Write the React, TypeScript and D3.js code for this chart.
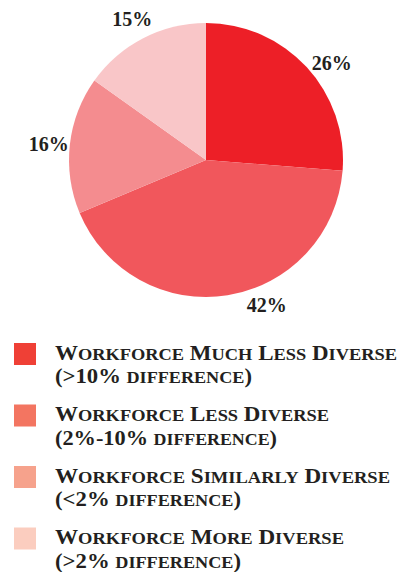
import React from "react";
import * as d3 from "d3";

const categories = [
  "Workforce Much Less Diverse",
  "Workforce Less Diverse",
  "Workforce Similarly Diverse",
  "Workforce More Diverse",
];
const subLabels = [
  "(>10% difference)",
  "(2%-10% difference)",
  "(<2% difference)",
  "(>2% difference)",
];
const values = [26, 42, 16, 15];
const sliceColors = ["#ed1f27", "#f1575c", "#f48c8f", "#f9c6c8"];
const legendColors = ["#ef4036", "#f37561", "#f6a28c", "#fbcdbf"];

// layout
const W = 401;
const H = 572;
const CX = 206;
const CY = 160;
const R = 137;
const LABEL_R = 158;
const labelAngleNudgeDeg = [5.5, -13.5, -1, -0.6];
const FONT = "'Liberation Serif', 'DejaVu Serif', serif";
const TEXT_COLOR = "#231f20";
const LEG_FONT = 20.5;
const SC_RATIO = 0.8;
const line1Widths = [342, 274, 335, 289];
const line2Widths = [197, 222, 186, 186];

function smallCaps(str: string, size: number) {
  const runs: { t: string; small: boolean }[] = [];
  for (const ch of str) {
    const small = ch >= "a" && ch <= "z";
    const last = runs[runs.length - 1];
    if (last && last.small === small) last.t += ch;
    else runs.push({ t: ch, small });
  }
  return runs.map((r, i) => (
    <tspan key={i} fontSize={r.small ? size * SC_RATIO : size}>
      {r.small ? r.t.toUpperCase() : r.t}
    </tspan>
  ));
}

export default function App() {
  const pie = d3
    .pie<number>()
    .sort(null)
    .value((d) => d);
  const arcs = pie(values);
  const arc = d3.arc<d3.PieArcDatum<number>>().innerRadius(0).outerRadius(R);

  const legendY = d3
    .scaleLinear()
    .domain([0, 1])
    .range([343, 343 + 61.5]);

  return (
    <svg
      width={W}
      height={H}
      style={{ position: "absolute", left: 0, top: 0, background: "#fff" }}
    >
      <g transform={`translate(${CX},${CY})`}>
        {arcs.map((a, i) => (
          <path key={i} d={arc(a) || ""} fill={sliceColors[i]} />
        ))}
        {arcs.map((a, i) => {
          const mid =
            (a.startAngle + a.endAngle) / 2 +
            (labelAngleNudgeDeg[i] * Math.PI) / 180;
          const x = Math.sin(mid) * LABEL_R;
          const y = -Math.cos(mid) * LABEL_R;
          return (
            <text
              key={"l" + i}
              x={x}
              y={y + 6}
              textAnchor="middle"
              fontFamily={FONT}
              fontWeight="bold"
              fontSize={20}
              fill={TEXT_COLOR}
              textLength={40}
              lengthAdjust="spacingAndGlyphs"
            >
              {values[i]}%
            </text>
          );
        })}
      </g>
      {categories.map((c, i) => {
        const y0 = legendY(i);
        return (
          <g key={"lg" + i}>
            <rect x={14} y={y0} width={22} height={22} fill={legendColors[i]} />
            <text
              x={55}
              y={y0 + 16.5}
              fontFamily={FONT}
              fontWeight="bold"
              fontSize={LEG_FONT}
              fill={TEXT_COLOR}
              textLength={line1Widths[i]}
              lengthAdjust="spacingAndGlyphs"
            >
              {smallCaps(c, LEG_FONT)}
            </text>
            <text
              x={55}
              y={y0 + 40}
              fontFamily={FONT}
              fontWeight="bold"
              fontSize={LEG_FONT}
              fill={TEXT_COLOR}
              textLength={line2Widths[i]}
              lengthAdjust="spacingAndGlyphs"
            >
              {smallCaps(subLabels[i], LEG_FONT)}
            </text>
          </g>
        );
      })}
    </svg>
  );
}
